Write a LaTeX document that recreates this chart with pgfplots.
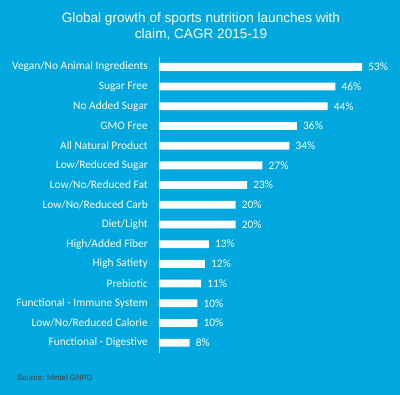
\documentclass[border=0pt]{standalone}
\usepackage{pgfplots}
\pgfplotsset{compat=1.18}
\usepackage{fontspec}
\setmainfont{Carlito}
\newfontfamily\arial{Liberation Sans}
\definecolor{bg}{RGB}{0,168,224}
\begin{document}
\begin{tikzpicture}
\fill[bg] (0pt,0pt) rectangle (400pt,-395pt);
\node[font=\arial\fontsize{13.6}{15.5}\selectfont, text=white, align=center] at (201pt,-26.5pt) {Global growth of sports nutrition launches with\\claim, CAGR 2015-19};
\node[anchor=west, font=\arial\fontsize{7.8}{9}\selectfont, text=black!75, inner sep=0pt] at (17pt,-378pt) {Source: Mintel GNPD};
\begin{axis}[
  at={(159pt,-352.5pt)}, anchor=south west,
  scale only axis, width=230pt, height=295.5pt,
  xbar, bar width=7.8pt,
  xmin=0, xmax=60, ymin=-0.5, ymax=14.5,
  y dir=reverse,
  axis lines=left,
  x axis line style={draw=none},
  y axis line style={draw=white!70!bg, line width=0.8pt, -},
  xtick=\empty,
  ytick={0,...,14},
  yticklabels={Vegan/No Animal Ingredients, Sugar Free, No Added Sugar, GMO Free, All Natural Product, Low/Reduced Sugar, Low/No/Reduced Fat, Low/No/Reduced Carb, Diet/Light, High/Added Fiber, High Satiety, Prebiotic, Functional - Immune System, Low/No/Reduced Calorie, Functional - Digestive},
  major tick length=0pt,
  yticklabel style={text=white, font=\fontsize{11.4}{13}\selectfont, inner sep=0pt, xshift=-11pt},
  point meta=x,
  /pgf/number format/assume math mode=true,
  nodes near coords={\pgfmathprintnumber{\pgfplotspointmeta}\%},
  nodes near coords style={text=white, font=\fontsize{11.4}{13}\selectfont, anchor=west, inner sep=0pt, xshift=6pt},
]
\addplot[fill=white, draw=none] coordinates {
(53,0) (46,1) (44,2) (36,3) (34,4) (27,5) (23,6) (20,7) (20,8) (13,9) (12,10) (11,11) (10,12) (10,13) (8,14)
};
\end{axis}
\pgfresetboundingbox
\useasboundingbox (0pt,0pt) rectangle (400pt,-395pt);
\end{tikzpicture}
\end{document}
